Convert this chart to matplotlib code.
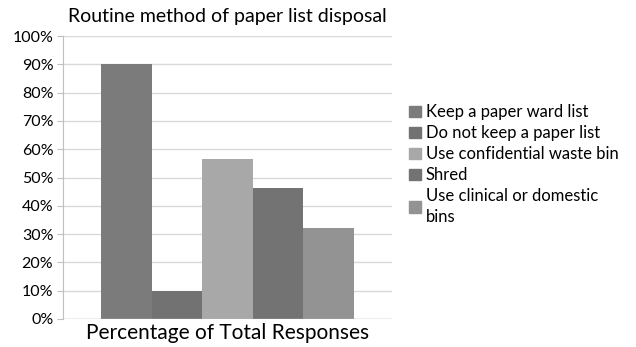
import matplotlib.pyplot as plt
from matplotlib.ticker import PercentFormatter
from matplotlib.patches import Patch

plt.rcParams['font.family'] = ['Lato', 'DejaVu Sans']

# survey answers (share of total responses)
labels = ['Keep a paper ward list', 'Do not keep a paper list',
          'Use confidential waste bin', 'Shred', 'Use clinical or domestic\nbins']
values = [90.0, 10.0, 56.5, 46.3, 32.2]
colors = ['#7b7b7b', '#727272', '#a8a8a8', '#737373', '#939393']

fig = plt.figure(figsize=(6.36, 3.47), dpi=100)
ax = fig.add_axes([63/636, 28/347, 329/636, 283/347])

w = 0.154
for i, (v, c) in enumerate(zip(values, colors)):
    ax.bar((i - 2) * w, v, width=w, color=c, zorder=2)

ax.set_xlim(-0.5, 0.5)
ax.set_ylim(0, 100)
ax.set_yticks(range(0, 101, 10))
ax.yaxis.set_major_formatter(PercentFormatter(decimals=0))
ax.set_xticks([])
ax.grid(axis='y', color='#d9d9d9', linewidth=1, zorder=0)
for s in ['top', 'right', 'bottom']:
    ax.spines[s].set_visible(False)
ax.spines['left'].set_color('#bfbfbf')
ax.tick_params(axis='y', length=4, color='#bfbfbf', labelsize=11.5, pad=3)
ax.axhline(0, color='#bfbfbf', linewidth=1, zorder=3)

ax.set_title('Routine method of paper list disposal', fontsize=14, pad=10)
ax.set_xlabel('Percentage of Total Responses', fontsize=15, labelpad=3)

handles = [Patch(color=c) for c in colors]
leg = fig.legend(handles, labels, loc='upper left', bbox_to_anchor=(401/636, 1 - 96/347),
                 frameon=False, fontsize=12, handlelength=0.7, handleheight=0.7,
                 handletextpad=0.3, labelspacing=0.3, borderpad=0)
for t in leg.get_texts():
    t.set_linespacing(1.35)

fig.savefig('out.png', dpi=100)
